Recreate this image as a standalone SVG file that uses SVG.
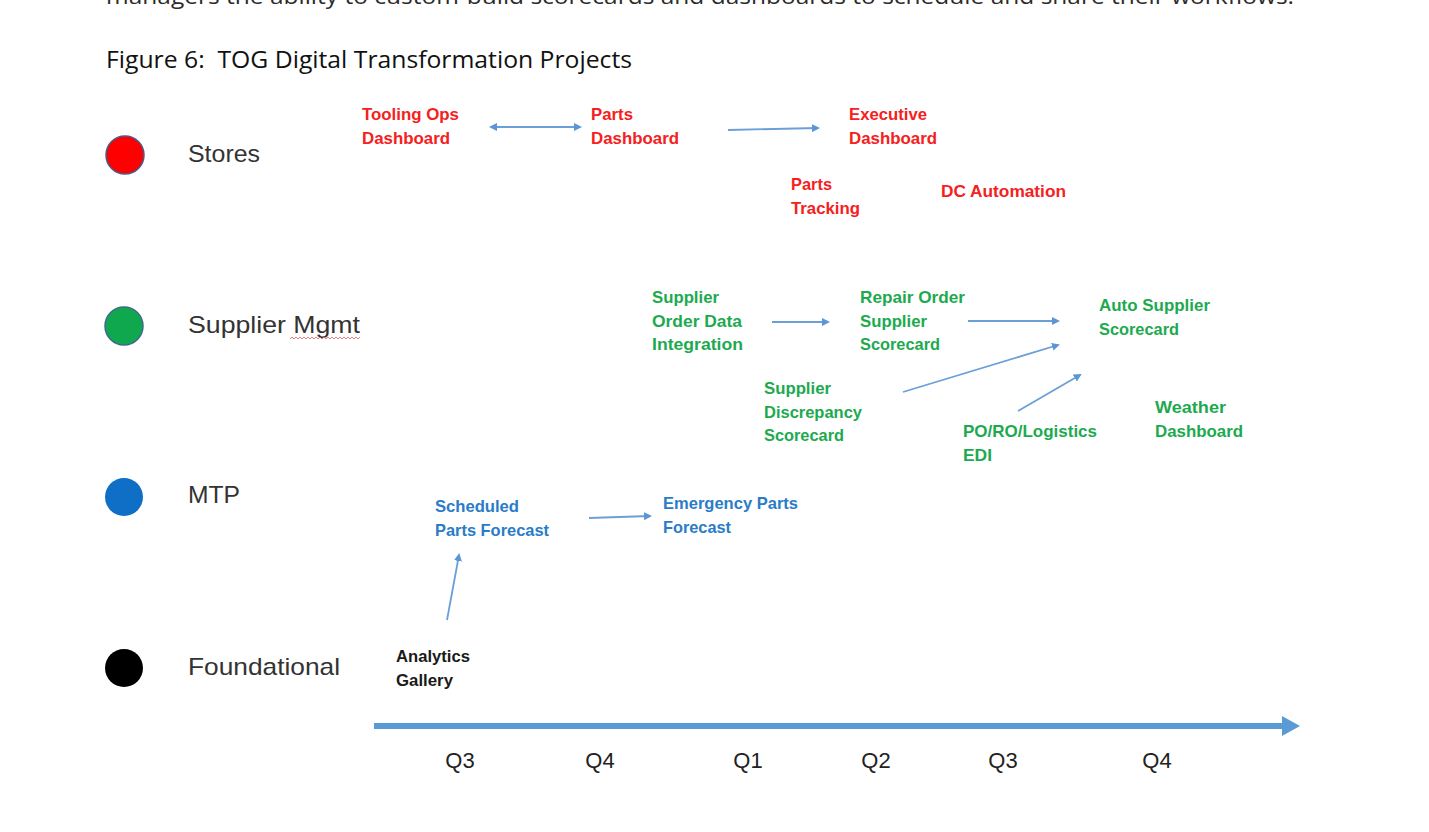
<svg xmlns="http://www.w3.org/2000/svg" width="1429" height="832" viewBox="0 0 1429 832">
<style>
.body{font-family:"Open Sans","Liberation Sans",sans-serif;font-size:22px;fill:#2b2b2b}
.title{font-family:"Open Sans","Liberation Sans",sans-serif;font-size:24px;fill:#111}
.lane{font-family:"Liberation Sans",Arial,sans-serif;font-size:24px;fill:#333}
.n{font-family:"Liberation Sans",Arial,sans-serif;font-size:17px;font-weight:bold}
.r{fill:#f52020}
.g{fill:#1daa4f}
.b{fill:#2a7cc8}
.k{fill:#1a1a1a}
.q{font-family:"Liberation Sans",Arial,sans-serif;font-size:22px;fill:#222}
.c{stroke:#6a9fd8;stroke-width:1.8;fill:none}
</style>
<defs>
<marker id="ah" markerWidth="8" markerHeight="8" refX="6" refY="4" orient="auto" markerUnits="userSpaceOnUse">
<path d="M0,0 L8,4 L0,8 Z" fill="#5b95d5"/>
</marker>
<marker id="ahs" markerWidth="8" markerHeight="8" refX="2" refY="4" orient="auto" markerUnits="userSpaceOnUse">
<path d="M8,0 L0,4 L8,8 Z" fill="#5b95d5"/>
</marker>
</defs>
<rect width="1429" height="832" fill="#fff"/>
<text class="body" x="106" y="4" textLength="1188" lengthAdjust="spacingAndGlyphs">managers the ability to custom-build scorecards and dashboards to schedule and share their workflows.</text>
<text class="title" x="106" y="68" textLength="526" lengthAdjust="spacingAndGlyphs" xml:space="preserve">Figure 6:  TOG Digital Transformation Projects</text>

<g id="lane-stores">
<circle cx="125" cy="155" r="19" fill="#ff0000" stroke="#4a5a8a" stroke-width="1.5"/>
<text class="lane" x="188" y="162" textLength="72" lengthAdjust="spacingAndGlyphs">Stores</text>
</g>
<g id="lane-supplier">
<circle cx="124" cy="326" r="19" fill="#10a84f" stroke="#3d6a8a" stroke-width="1.5"/>
<text class="lane" x="188" y="333" textLength="172" lengthAdjust="spacingAndGlyphs">Supplier Mgmt</text>
<path d="M290,339 l2,-2 l2,2 l2,-2 l2,2 l2,-2 l2,2 l2,-2 l2,2 l2,-2 l2,2 l2,-2 l2,2 l2,-2 l2,2 l2,-2 l2,2 l2,-2 l2,2 l2,-2 l2,2 l2,-2 l2,2 l2,-2 l2,2 l2,-2 l2,2 l2,-2 l2,2 l2,-2 l2,2 l2,-2 l2,2 l2,-2 l2,2 l2,-2" fill="none" stroke="#e06060" stroke-width="0.8"/>
</g>
<g id="lane-mtp">
<circle cx="124" cy="497" r="19" fill="#0f6ec6"/>
<text class="lane" x="188" y="503" textLength="52" lengthAdjust="spacingAndGlyphs">MTP</text>
</g>
<g id="lane-foundational">
<circle cx="124" cy="668" r="19" fill="#000"/>
<text class="lane" x="188" y="675" textLength="152" lengthAdjust="spacingAndGlyphs">Foundational</text>
</g>

<g id="tooling-ops"><text class="n r" x="362" y="120" textLength="97" lengthAdjust="spacingAndGlyphs">Tooling Ops</text><text class="n r" x="362" y="144" textLength="88" lengthAdjust="spacingAndGlyphs">Dashboard</text></g>
<g id="parts-dashboard"><text class="n r" x="591" y="120" textLength="42" lengthAdjust="spacingAndGlyphs">Parts</text><text class="n r" x="591" y="144" textLength="88" lengthAdjust="spacingAndGlyphs">Dashboard</text></g>
<g id="executive-dashboard"><text class="n r" x="849" y="120" textLength="78" lengthAdjust="spacingAndGlyphs">Executive</text><text class="n r" x="849" y="144" textLength="88" lengthAdjust="spacingAndGlyphs">Dashboard</text></g>
<g id="parts-tracking"><text class="n r" x="791" y="190" textLength="41" lengthAdjust="spacingAndGlyphs">Parts</text><text class="n r" x="791" y="214" textLength="69" lengthAdjust="spacingAndGlyphs">Tracking</text></g>
<g id="dc-automation"><text class="n r" x="941" y="197" textLength="125" lengthAdjust="spacingAndGlyphs">DC Automation</text></g>

<g id="supplier-order"><text class="n g" x="652" y="303" textLength="67" lengthAdjust="spacingAndGlyphs">Supplier</text><text class="n g" x="652" y="327" textLength="90" lengthAdjust="spacingAndGlyphs">Order Data</text><text class="n g" x="652" y="350" textLength="91" lengthAdjust="spacingAndGlyphs">Integration</text></g>
<g id="repair-order"><text class="n g" x="860" y="303" textLength="105" lengthAdjust="spacingAndGlyphs">Repair Order</text><text class="n g" x="860" y="327" textLength="67" lengthAdjust="spacingAndGlyphs">Supplier</text><text class="n g" x="860" y="350" textLength="80" lengthAdjust="spacingAndGlyphs">Scorecard</text></g>
<g id="auto-supplier"><text class="n g" x="1099" y="311" textLength="111" lengthAdjust="spacingAndGlyphs">Auto Supplier</text><text class="n g" x="1099" y="335" textLength="80" lengthAdjust="spacingAndGlyphs">Scorecard</text></g>
<g id="supplier-discrepancy"><text class="n g" x="764" y="394" textLength="67" lengthAdjust="spacingAndGlyphs">Supplier</text><text class="n g" x="764" y="418" textLength="98" lengthAdjust="spacingAndGlyphs">Discrepancy</text><text class="n g" x="764" y="441" textLength="80" lengthAdjust="spacingAndGlyphs">Scorecard</text></g>
<g id="po-ro-edi"><text class="n g" x="963" y="437" textLength="134" lengthAdjust="spacingAndGlyphs">PO/RO/Logistics</text><text class="n g" x="963" y="461" textLength="29" lengthAdjust="spacingAndGlyphs">EDI</text></g>
<g id="weather"><text class="n g" x="1155" y="413" textLength="71" lengthAdjust="spacingAndGlyphs">Weather</text><text class="n g" x="1155" y="437" textLength="88" lengthAdjust="spacingAndGlyphs">Dashboard</text></g>

<g id="scheduled-forecast"><text class="n b" x="435" y="512" textLength="84" lengthAdjust="spacingAndGlyphs">Scheduled</text><text class="n b" x="435" y="536" textLength="114" lengthAdjust="spacingAndGlyphs">Parts Forecast</text></g>
<g id="emergency-forecast"><text class="n b" x="663" y="509" textLength="135" lengthAdjust="spacingAndGlyphs">Emergency Parts</text><text class="n b" x="663" y="533" textLength="68" lengthAdjust="spacingAndGlyphs">Forecast</text></g>
<g id="analytics-gallery"><text class="n k" x="396" y="662" textLength="74" lengthAdjust="spacingAndGlyphs">Analytics</text><text class="n k" x="396" y="686" textLength="57" lengthAdjust="spacingAndGlyphs">Gallery</text></g>

<g id="connectors">
<line class="c" x1="491" y1="127" x2="580" y2="127" marker-start="url(#ahs)" marker-end="url(#ah)"/>
<line class="c" x1="728" y1="130" x2="818" y2="128" marker-end="url(#ah)"/>
<line class="c" x1="772" y1="322" x2="828" y2="322" marker-end="url(#ah)"/>
<line class="c" x1="968" y1="321" x2="1058" y2="321" marker-end="url(#ah)"/>
<line class="c" x1="903" y1="392" x2="1058" y2="345" marker-end="url(#ah)"/>
<line class="c" x1="1018" y1="411" x2="1080" y2="375" marker-end="url(#ah)"/>
<line class="c" x1="589" y1="518" x2="650" y2="516" marker-end="url(#ah)"/>
<line class="c" x1="447" y1="620" x2="459" y2="555" marker-end="url(#ah)"/>
</g>

<g id="timeline">
<line x1="374" y1="726" x2="1286" y2="726" stroke="#5b9bd5" stroke-width="6"/>
<path d="M1282,716 L1300,726 L1282,736 Z" fill="#5b9bd5"/>
<text class="q" x="460" y="768" text-anchor="middle">Q3</text>
<text class="q" x="600" y="768" text-anchor="middle">Q4</text>
<text class="q" x="748" y="768" text-anchor="middle">Q1</text>
<text class="q" x="876" y="768" text-anchor="middle">Q2</text>
<text class="q" x="1003" y="768" text-anchor="middle">Q3</text>
<text class="q" x="1157" y="768" text-anchor="middle">Q4</text>
</g>
</svg>
